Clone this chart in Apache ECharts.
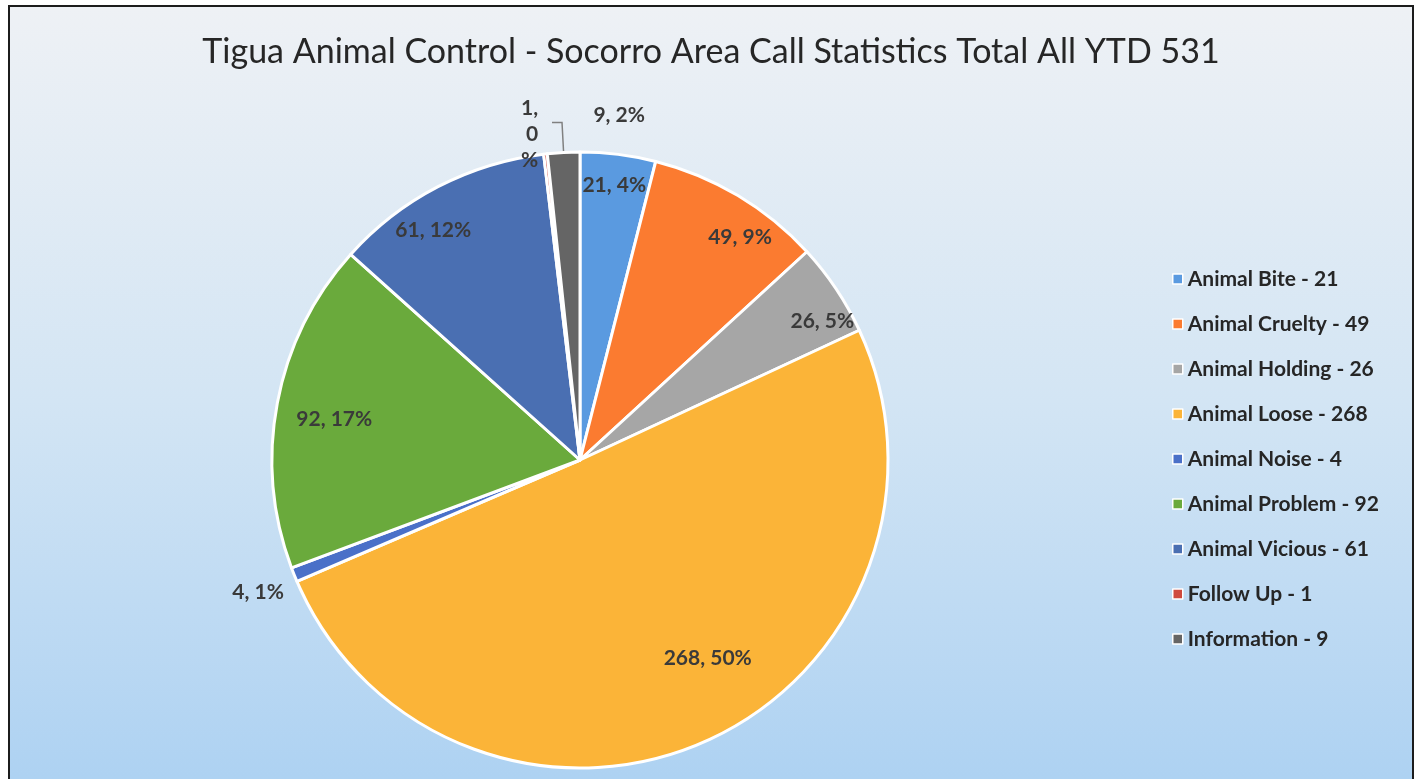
<!DOCTYPE html>
<html>
<head>
<meta charset="utf-8">
<script src="https://cdn.jsdelivr.net/npm/echarts@6/dist/echarts.min.js"></script>
<style>
  html, body { margin: 0; padding: 0; background: #ffffff; width: 1419px; height: 779px; overflow: hidden; }
  #frame { position: absolute; left: 8px; top: 5px; width: 1406px; height: 790px; box-sizing: border-box;
           border: 2px solid #1c1c1c; border-bottom: none; }
  #chart { width: 1402px; height: 788px; }
</style>
</head>
<body>
<div id="frame"><div id="chart"></div></div>
<script>
const titleText = 'Tigua Animal Control - Socorro Area Call Statistics Total All YTD 531';
const categories = ['Animal Bite', 'Animal Cruelty', 'Animal Holding', 'Animal Loose', 'Animal Noise',
                    'Animal Problem', 'Animal Vicious', 'Follow Up', 'Information'];
const values = [21, 49, 26, 268, 4, 92, 61, 1, 9];
const colors = ['#5a9ae0', '#fb7b30', '#a6a6a6', '#fbb438', '#4a70c8', '#6aaa3c', '#4a6fb2', '#cf4a3e', '#656565'];
const outerLabelIdx = [4, 7, 8];
const innerFarIdx = [0, 1, 2, 6];
const innerNearIdx = [3, 5];
// small label nudges (Excel "best fit" placement), by data index: [dx, dy]
const labelNudge = { 1: [18, 15], 2: [12, 15], 3: [27, -27], 4: [4, 14], 5: [-3, 5], 6: [-19, 16], 8: [98, -7] };

const labelFont = { fontFamily: 'Lato', fontWeight: 'bold', fontSize: 21, color: '#3a3a3a' };
const center = [570, 453];
const R = 308;

function nudgeLayout(params) {
  const n = labelNudge[params.dataIndex];
  if (n) { return { dx: n[0], dy: n[1] }; }
}

const chart = echarts.init(document.getElementById('chart'));

function overlaySeries(inner, idxs) {
  return {
    type: 'pie', center: center, radius: [inner, R], startAngle: 90, clockwise: true,
    percentPrecision: 0, silent: true, avoidLabelOverlap: false, animation: false,
    itemStyle: { color: 'rgba(0,0,0,0)', borderWidth: 0 },
    label: Object.assign({ show: false, position: 'inside', formatter: '{c}, {d}%' }, labelFont),
    labelLine: { show: false },
    labelLayout: nudgeLayout,
    emphasis: { disabled: true },
    data: categories.map((n, i) => ({ name: n, value: values[i], label: { show: idxs.includes(i) } }))
  };
}

const mainData = categories.map((n, i) => {
  const d = { name: n, value: values[i], itemStyle: { color: colors[i] }, label: { show: outerLabelIdx.includes(i) } };
  if (i === 4) { d.labelLine = { show: false, length: 10, length2: 0 }; }
  if (i === 7) {
    d.labelLine = { show: false, length: 20, length2: 0 };
    d.label.formatter = p => p.value + ',\n' + p.percent + '\n%';
    d.label.lineHeight = 26;
  }
  if (i === 8) { d.labelLine = { show: true, length: 30, length2: 10, lineStyle: { color: '#808080', width: 1.5 } }; }
  return d;
});

chart.setOption({
  backgroundColor: new echarts.graphic.LinearGradient(0, 0, 0, 1, [
    { offset: 0, color: '#eef1f5' }, { offset: 0.5, color: '#d3e5f4' }, { offset: 1, color: '#acd1f2' }
  ]),
  animation: false,
  title: {
    text: titleText, left: 'center', top: 28, padding: 0,
    textStyle: { fontFamily: 'Lato', fontWeight: 'normal', fontSize: 34, color: '#262626' }
  },
  legend: {
    orient: 'vertical', left: 1162, top: 260, padding: 0, itemWidth: 10, itemHeight: 10, itemGap: 21,
    icon: 'rect', data: categories,
    itemStyle: { borderColor: '#ffffff', borderWidth: 1.5 },
    formatter: name => name + ' - ' + values[categories.indexOf(name)],
    textStyle: { fontFamily: 'Lato', fontWeight: 'bold', fontSize: 21, color: '#262626', lineHeight: 24 }
  },
  series: [
    {
      type: 'pie', center: center, radius: R, startAngle: 90, clockwise: true,
      percentPrecision: 0, avoidLabelOverlap: false,
      itemStyle: { borderColor: '#ffffff', borderWidth: 3 },
      label: Object.assign({ position: 'outside', formatter: '{c}, {d}%' }, labelFont),
      labelLayout: nudgeLayout,
      data: mainData
    },
    overlaySeries(240, innerFarIdx),
    overlaySeries(180, innerNearIdx)
  ]
});
</script>
</body>
</html>
